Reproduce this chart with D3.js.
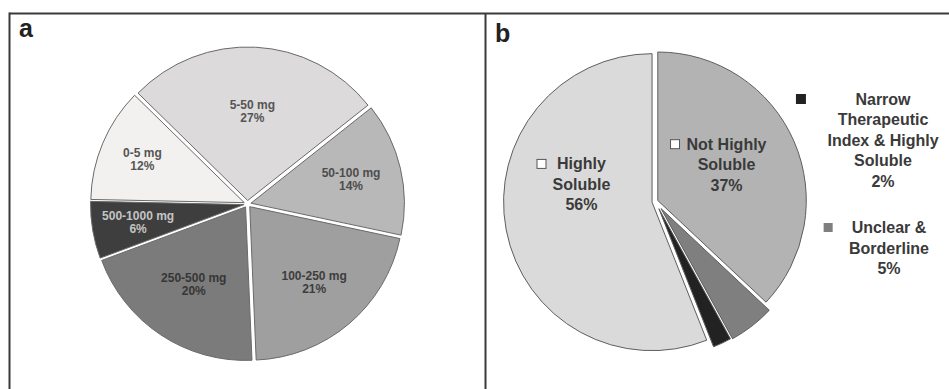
<!DOCTYPE html>
<html>
<head>
<meta charset="utf-8">
<script src="https://cdn.jsdelivr.net/npm/d3@7"></script>
<style>
  html, body { margin: 0; padding: 0; background: #fff; }
  svg { display: block; font-family: "Liberation Sans", Arial, sans-serif; font-weight: bold; }
</style>
</head>
<body>
<svg id="chart" width="949" height="389"></svg>
<script>
// Panel a: distribution of daily dose ranges (% of drugs)
const doseCategories = ["0-5 mg", "5-50 mg", "50-100 mg", "100-250 mg", "250-500 mg", "500-1000 mg"];
const doseShares = [12, 27, 14, 21, 20, 6];

// Panel b: solubility classification (% of drugs)
const solubilityCategories = ["Not Highly Soluble", "Unclear & Borderline", "Narrow Therapeutic Index & Highly Soluble", "Highly Soluble"];
const solubilityShares = [37, 5, 2, 56];
// how each category name wraps inside its label
const solubilityNameLines = [
  ["Not Highly", "Soluble"],
  ["Unclear &", "Borderline"],
  ["Narrow", "Therapeutic", "Index & Highly", "Soluble"],
  ["Highly", "Soluble"]
];

// ---- styling / layout ----
const doseFills = ["#f3f1f0", "#dcdadb", "#b8b8b8", "#9f9f9f", "#7b7b7b", "#3e3e3e"];
const doseText = ["#555555", "#555555", "#4d4d4d", "#3d3d3d", "#363636", "#c4c4c4"];
const doseLabelRadius = [0.72, 0.58, 0.67, 0.65, 0.61, 0.70];
const solFills = ["#b3b3b3", "#7f7f7f", "#222222", "#dbdadb"];
const solExplode = [2.5, 9, 8, 3.5];
const solKeyGap = [7, 19, 49.5, 11];
const deg = Math.PI / 180;

const svg = d3.select("#chart");
svg.append("rect").attr("width", 949).attr("height", 389).attr("fill", "#fff");

// panel frame
const frame = svg.append("g").attr("stroke", "#3a3a3a").attr("stroke-width", 2).attr("fill", "none");
frame.append("line").attr("x1", 9.5).attr("x2", 949).attr("y1", 13.5).attr("y2", 13.5);
frame.append("line").attr("x1", 9.5).attr("x2", 9.5).attr("y1", 12.5).attr("y2", 389);
frame.append("line").attr("x1", 485.5).attr("x2", 485.5).attr("y1", 13.5).attr("y2", 389);

svg.append("text").attr("x", 19).attr("y", 37).attr("font-size", 25).attr("fill", "#222").text("a");
svg.append("text").attr("x", 495).attr("y", 42).attr("font-size", 25).attr("fill", "#222").text("b");

// ---------- panel a ----------
{
  const cx = 247.5, cy = 204, r = 153.5, explode = 3.5;
  const start = -88.8 * deg;
  const pie = d3.pie().sort(null).value(d => d).startAngle(start).endAngle(start + 2 * Math.PI);
  const arcs = pie(doseShares);
  const arc = d3.arc().innerRadius(0).outerRadius(r);
  const g = svg.append("g").attr("transform", `translate(${cx},${cy})`);
  const slices = g.selectAll("g.slice").data(arcs).join("g")
    .attr("class", "slice")
    .attr("transform", d => {
      const m = (d.startAngle + d.endAngle) / 2;
      return `translate(${explode * Math.sin(m)},${-explode * Math.cos(m)})`;
    });
  slices.append("path")
    .attr("d", arc)
    .attr("fill", (d, i) => doseFills[i])
    .attr("stroke", "#6a6a6a")
    .attr("stroke-width", 1)
    .attr("stroke-linejoin", "round");
  const lbl = slices.append("text")
    .attr("text-anchor", "middle")
    .attr("font-size", 12)
    .attr("fill", (d, i) => doseText[i])
    .attr("transform", (d, i) => {
      const m = (d.startAngle + d.endAngle) / 2;
      const lr = r * doseLabelRadius[i];
      return `translate(${lr * Math.sin(m)},${-lr * Math.cos(m)})`;
    });
  lbl.append("tspan").attr("x", 0).attr("y", -2.5).text((d, i) => doseCategories[i]);
  lbl.append("tspan").attr("x", 0).attr("y", 10.5).text(d => d.data + "%");
}

// ---------- panel b ----------
{
  const cx = 655.5, cy = 201.5, r = 148.5;
  const pie = d3.pie().sort(null).value(d => d).startAngle(0).endAngle(2 * Math.PI);
  const arcs = pie(solubilityShares);
  const arc = d3.arc().innerRadius(0).outerRadius(r);
  const g = svg.append("g").attr("transform", `translate(${cx},${cy})`);
  g.selectAll("path").data(arcs).join("path")
    .attr("transform", (d, i) => {
      const m = (d.startAngle + d.endAngle) / 2;
      return `translate(${solExplode[i] * Math.sin(m)},${-solExplode[i] * Math.cos(m)})`;
    })
    .attr("d", arc)
    .attr("fill", (d, i) => solFills[i])
    .attr("stroke", "#5e5e5e")
    .attr("stroke-width", 1)
    .attr("stroke-linejoin", "round");

  // label anchors: inside labels by angle/radius from the centre, outside ones as absolute spots
  const spots = [
    { angle: 62.6, radius: 80 },
    { x: 889, y: 248 },
    { x: 883, y: 140 },
    { angle: 283, radius: 76 }
  ];
  const lineH = 20.5;
  arcs.forEach((d, i) => {
    const s = spots[i];
    let x, y;
    if (s.angle !== undefined) {
      x = cx + s.radius * Math.sin(s.angle * deg);
      y = cy - s.radius * Math.cos(s.angle * deg);
    } else { x = s.x; y = s.y; }
    const lines = solubilityNameLines[i].concat([d.data + "%"]);
    const top = y - (lines.length - 1) * lineH / 2;
    const t = svg.append("text")
      .attr("text-anchor", "middle")
      .attr("font-size", 16)
      .attr("fill", "#3a3a3a");
    lines.forEach((ln, k) => {
      t.append("tspan").attr("x", x).attr("y", top + k * lineH + 5.5).text(ln);
    });
    // legend key beside the first line
    const firstW = t.select("tspan").node().getComputedTextLength();
    const ks = i === 2 ? 10 : 9;
    const hollow = i === 0 || i === 3;
    svg.append("rect")
      .attr("x", x - firstW / 2 - solKeyGap[i] - ks)
      .attr("y", top - ks / 2)
      .attr("width", ks).attr("height", ks)
      .attr("fill", hollow ? "#fff" : solFills[i])
      .attr("stroke", hollow ? "#555" : "none")
      .attr("stroke-width", 1);
  });
}
</script>
</body>
</html>
